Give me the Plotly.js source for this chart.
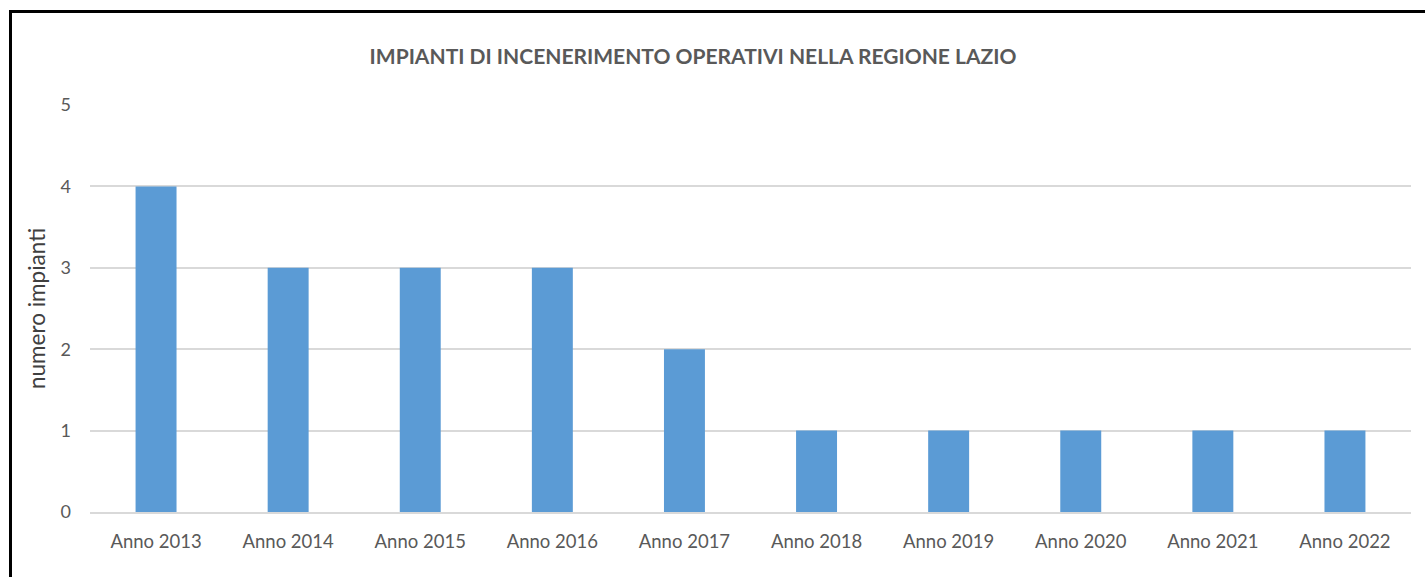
<!DOCTYPE html>
<html>
<head>
<meta charset="utf-8">
<script src="https://cdn.plot.ly/plotly-3.0.1.min.js"></script>
<style>
html,body{margin:0;padding:0;background:#fff;overflow:hidden;}
#chart{position:absolute;left:0;top:0;width:1425px;height:577px;}
#frame{position:absolute;left:9px;top:10px;width:2000px;height:2000px;border-left:3px solid #000;border-top:3px solid #000;pointer-events:none;}
</style>
</head>
<body>
<div id="chart"></div>
<div id="frame"></div>
<script>
const categories = ["Anno 2013","Anno 2014","Anno 2015","Anno 2016","Anno 2017","Anno 2018","Anno 2019","Anno 2020","Anno 2021","Anno 2022"];
const impianti = [4,3,3,3,2,1,1,1,1,1];
const yTicks = [0,1,2,3,4,5];

const fontFam = "Lato, 'Open Sans', sans-serif";
const data = [{
  type: 'bar',
  x: categories,
  y: impianti,
  marker: {color: '#5B9BD5'},
  hoverinfo: 'x+y'
}];
const layout = {
  width: 1425, height: 577,
  margin: {l: 90, r: 14, t: 105, b: 65},
  paper_bgcolor: 'rgba(0,0,0,0)',
  plot_bgcolor: 'rgba(0,0,0,0)',
  bargap: 0.69,
  showlegend: false,
  title: {
    text: '<b>IMPIANTI DI INCENERIMENTO OPERATIVI NELLA REGIONE LAZIO</b>',
    font: {family: fontFam, size: 21, color: '#595959'},
    x: 693/1425, xref: 'container', xanchor: 'center',
    y: 1 - 57/577, yref: 'container', yanchor: 'middle'
  },
  xaxis: {
    type: 'category',
    tickfont: {family: fontFam, size: 18.5, color: '#595959'},
    showgrid: false,
    showline: true, linecolor: '#D9D9D9', linewidth: 2,
    ticks: '', ticklabelstandoff: 12
  },
  yaxis: {
    range: [0, 5],
    tickvals: yTicks,
    ticktext: yTicks.map(String),
    tickfont: {family: fontFam, size: 18, color: '#595959'},
    showgrid: true, gridcolor: '#D9D9D9', gridwidth: 2,
    zeroline: false,
    showline: false,
    ticks: '', ticklabelstandoff: 18,
    title: {text: 'numero impianti', font: {family: fontFam, size: 22.5, color: '#404040'}, standoff: 8}
  }
};
Plotly.newPlot('chart', data, layout, {displayModeBar: false, staticPlot: true});
</script>
</body>
</html>
